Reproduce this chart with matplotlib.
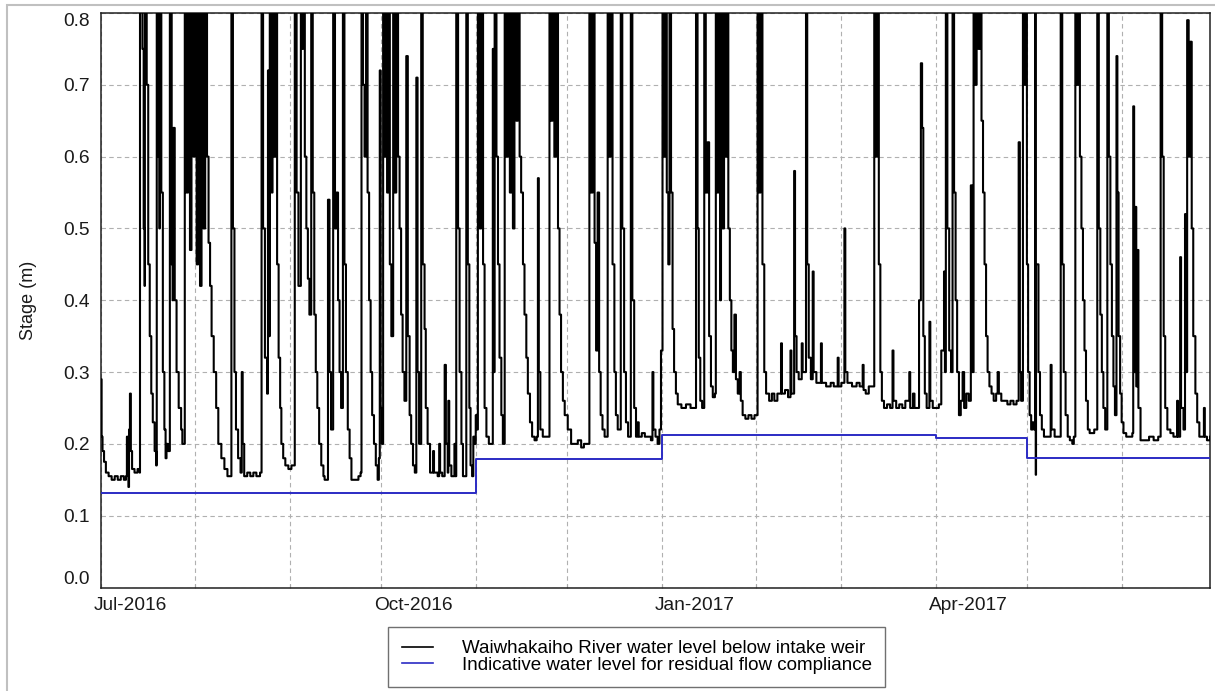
import numpy as np
import matplotlib
matplotlib.use('Agg')
import matplotlib.pyplot as plt
import matplotlib.dates as mdates
import matplotlib.transforms as mtransforms
from matplotlib.lines import Line2D
from matplotlib.patches import Rectangle
from datetime import datetime

plt.rcParams['font.family'] = ['Liberation Sans', 'DejaVu Sans']

# =============================================================================
# DATA (days since 1 Jul 2016, stage in m)
# =============================================================================

# Jul - Sep 2016
stage_q3 = [
    (0.0, 0.29), (0.2, 0.21), (0.5, 0.19), (1.0, 0.175), (1.6, 0.16), (2.5, 0.155), (3.5, 0.15),
    (4.5, 0.155), (5.5, 0.15), (6.5, 0.155), (7.5, 0.15), (8.2, 0.155), (8.5, 0.21), (8.8, 0.17),
    (9.0, 0.14), (9.2, 0.22), (9.5, 0.27), (9.8, 0.19), (10.2, 0.165), (11.0, 0.16), (12.0, 0.165),
    (12.7, 0.16), (12.8, 1.1), (13.6, 0.75), (14.0, 0.5), (14.3, 0.42), (14.4, 1.1), (15.0, 0.7),
    (15.5, 0.45), (16.0, 0.35), (16.5, 0.27), (17.0, 0.23), (17.6, 0.19), (18.1, 0.17), (18.3, 1.1),
    (18.8, 0.6), (19.2, 0.5), (19.3, 1.1), (19.8, 0.55), (20.3, 0.3), (20.8, 0.22), (21.2, 0.18),
    (21.5, 0.2), (22.0, 0.19), (22.6, 1.1), (23.2, 0.45), (23.5, 0.4), (23.7, 0.64), (24.2, 0.4),
    (24.8, 0.3), (25.5, 0.25), (26.3, 0.22), (26.7, 0.2), (27.5, 1.1), (28.0, 0.55), (28.6, 1.1),
    (29.2, 0.47), (29.7, 1.1), (30.3, 0.6), (30.8, 1.1), (31.4, 0.45), (31.9, 1.1), (32.5, 0.42),
    (33.0, 1.1), (33.6, 0.5), (34.2, 1.1), (34.8, 0.6), (35.3, 0.48), (35.8, 0.42), (36.3, 0.35),
    (37.0, 0.3), (37.8, 0.25), (38.5, 0.2), (39.5, 0.18), (40.5, 0.165), (41.5, 0.155), (42.8, 1.1),
    (43.3, 0.5), (43.8, 0.3), (44.3, 0.22), (45.0, 0.18), (45.8, 0.16), (46.2, 0.3), (46.5, 0.2),
    (47.0, 0.155), (48.0, 0.16), (49.0, 0.155), (50.0, 0.16), (51.0, 0.155), (52.2, 0.16),
    (52.7, 1.1), (53.2, 0.5), (53.8, 0.32), (54.5, 0.27), (54.8, 0.72), (55.2, 0.35), (55.4, 1.1),
    (56.0, 0.55), (56.3, 1.1), (56.8, 0.6), (57.3, 1.1), (57.8, 0.45), (58.3, 0.32), (58.8, 0.25),
    (59.2, 0.2), (59.8, 0.18), (60.5, 0.17), (61.5, 0.165), (62.5, 0.17), (63.2, 0.17), (63.6, 1.1),
    (64.2, 0.55), (64.8, 0.42), (65.6, 1.1), (66.0, 0.75), (66.3, 1.1), (66.9, 0.6), (67.4, 0.5),
    (67.9, 0.43), (68.4, 0.38), (69.0, 1.1), (69.5, 0.55), (70.0, 0.38), (70.5, 0.3), (71.0, 0.25),
    (71.6, 0.2), (72.3, 0.17), (73.0, 0.155), (73.4, 0.15), (74.5, 0.54), (75.0, 0.3), (75.5, 0.22),
    (76.2, 1.1), (76.8, 0.5), (77.3, 0.55), (77.8, 0.4), (78.3, 0.3), (78.8, 0.25), (79.4, 1.1),
    (79.9, 0.45), (80.4, 0.3), (81.0, 0.22), (81.6, 0.18), (82.2, 0.15), (83.2, 0.15), (84.5, 0.155),
    (85.2, 0.16), (85.5, 1.1), (86.0, 0.7), (86.5, 0.6), (87.0, 1.1), (87.5, 0.55), (88.0, 0.4),
    (88.5, 0.3), (89.0, 0.24), (89.6, 0.2), (90.2, 0.17), (90.8, 0.15), (91.2, 0.18), (91.5, 0.72),
    (91.8, 0.25),
]

# Oct - Dec 2016
stage_q4 = [
    (92.2, 0.2), (92.6, 1.1), (93.1, 0.6), (93.4, 1.1), (93.9, 0.55), (94.3, 1.1), (94.8, 0.45),
    (95.3, 0.35), (95.9, 1.1), (96.4, 0.55), (96.9, 1.1), (97.5, 0.6), (98.0, 0.5), (98.5, 0.38),
    (99.0, 0.3), (99.6, 0.26), (100.2, 0.74), (100.7, 0.35), (101.3, 0.24), (101.8, 0.2),
    (102.4, 0.17), (103.0, 0.16), (103.5, 0.71), (103.9, 0.3), (104.4, 0.2), (105.1, 1.1),
    (105.6, 0.45), (106.2, 0.36), (106.6, 0.25), (107.2, 0.2), (108.0, 0.16), (109.0, 0.19),
    (109.3, 0.16), (110.5, 0.155), (111.0, 0.2), (111.3, 0.16), (112.0, 0.155), (112.8, 0.31),
    (113.2, 0.2), (113.8, 0.16), (114.0, 0.26), (114.3, 0.17), (115.0, 0.155), (116.0, 0.2),
    (116.3, 0.155), (116.6, 1.1), (117.2, 0.5), (117.7, 0.3), (118.3, 0.2), (118.8, 0.155),
    (119.5, 0.155), (119.9, 1.1), (120.4, 0.45), (120.9, 0.25), (121.3, 0.17), (121.8, 0.155),
    (122.2, 0.21), (122.6, 0.2), (123.0, 0.24), (123.4, 0.22), (123.7, 1.1), (124.3, 0.5),
    (124.8, 1.1), (125.4, 0.45), (125.9, 0.25), (126.5, 0.21), (127.3, 0.2), (128.0, 0.2),
    (128.6, 0.75), (128.9, 0.3), (129.2, 1.1), (129.8, 0.6), (130.3, 0.45), (130.8, 0.32),
    (131.4, 0.24), (131.9, 0.2), (132.5, 1.1), (133.0, 0.6), (133.6, 1.1), (134.2, 0.55),
    (134.7, 1.1), (135.2, 0.5), (135.7, 1.1), (136.3, 0.65), (136.8, 1.1), (137.4, 0.6),
    (137.9, 0.55), (138.5, 0.45), (139.0, 0.38), (139.6, 0.32), (140.1, 0.27), (140.8, 0.23),
    (141.5, 0.21), (142.3, 0.205), (143.0, 0.21), (143.4, 0.57), (143.7, 0.3), (144.2, 0.22),
    (145.0, 0.21), (146.1, 0.21), (147.2, 1.1), (147.7, 0.65), (148.2, 1.1), (148.8, 0.6),
    (149.4, 1.1), (150.0, 0.5), (150.5, 0.38), (151.0, 0.3), (151.6, 0.26), (152.2, 0.24),
    (153.2, 0.22), (154.3, 0.2), (155.5, 0.2), (156.5, 0.205), (157.6, 0.195), (158.5, 0.2),
    (159.5, 0.2), (160.3, 1.1), (160.8, 0.55), (161.4, 1.1), (162.0, 0.48), (162.5, 0.33),
    (163.0, 0.55), (163.5, 0.3), (164.0, 0.24), (164.6, 0.22), (165.3, 0.21), (166.3, 1.1),
    (166.8, 0.6), (167.3, 1.1), (167.9, 0.45), (168.5, 0.3), (169.0, 0.24), (169.6, 0.22),
    (170.6, 1.1), (171.1, 0.5), (171.7, 0.3), (172.3, 0.23), (173.0, 0.21), (173.9, 1.1),
    (174.4, 0.4), (175.0, 0.25), (175.6, 0.21), (176.1, 0.23), (176.5, 0.21), (177.5, 0.215),
    (178.5, 0.21), (179.5, 0.21), (180.5, 0.205), (181.0, 0.3), (181.3, 0.22), (182.0, 0.21),
    (182.7, 0.2), (183.3, 0.22), (183.8, 0.33),
]

# Jan - Mar 2017
stage_q1 = [
    (184.3, 1.1), (184.8, 0.6), (185.2, 1.1), (185.7, 0.55), (186.2, 0.45), (186.6, 1.1),
    (187.1, 0.55), (187.6, 0.36), (188.1, 0.3), (188.7, 0.27), (189.3, 0.255), (190.5, 0.25),
    (192.0, 0.255), (193.5, 0.25), (194.7, 0.25), (195.3, 1.1), (195.8, 0.5), (196.2, 0.32),
    (196.7, 0.26), (197.3, 0.25), (198.0, 1.1), (198.5, 0.55), (199.1, 0.62), (199.6, 0.35),
    (200.2, 0.28), (200.8, 0.265), (201.5, 0.27), (201.8, 1.1), (202.3, 0.55), (202.7, 1.1),
    (203.2, 0.4), (203.5, 1.1), (204.0, 0.5), (204.5, 1.1), (205.0, 0.6), (205.4, 1.1),
    (205.9, 0.5), (206.4, 0.4), (206.9, 0.33), (207.4, 0.3), (207.9, 0.38), (208.4, 0.29),
    (209.0, 0.27), (209.6, 0.3), (210.0, 0.26), (210.6, 0.24), (211.5, 0.235), (212.5, 0.24),
    (213.5, 0.235), (214.5, 0.24), (215.5, 1.1), (216.0, 0.55), (216.5, 1.1), (217.1, 0.45),
    (217.7, 0.3), (218.3, 0.27), (219.3, 0.26), (220.2, 0.27), (221.0, 0.26), (222.0, 0.27),
    (223.2, 0.34), (223.5, 0.27), (224.5, 0.275), (225.5, 0.265), (226.3, 0.33), (226.6, 0.27),
    (227.5, 0.58), (227.8, 0.35), (228.3, 0.3), (229.0, 0.29), (230.0, 0.34), (230.3, 0.3),
    (231.4, 1.1), (231.8, 0.45), (232.3, 0.32), (233.0, 0.29), (233.6, 0.44), (233.9, 0.3),
    (234.8, 0.285), (236.3, 0.34), (236.6, 0.285), (238.0, 0.28), (239.5, 0.285), (240.5, 0.28),
    (241.8, 0.32), (242.1, 0.28), (243.0, 0.285), (244.0, 0.5), (244.3, 0.3), (245.0, 0.285),
    (246.5, 0.28), (248.0, 0.285), (249.0, 0.28), (250.0, 0.31), (250.3, 0.275), (251.0, 0.27),
    (252.0, 0.28), (252.7, 0.28), (253.8, 1.1), (254.3, 0.6), (254.8, 1.1), (255.3, 0.45),
    (255.8, 0.3), (256.3, 0.26), (257.0, 0.25), (258.0, 0.255), (259.0, 0.25), (259.8, 0.33),
    (260.1, 0.26), (261.0, 0.25), (262.0, 0.255), (263.0, 0.25), (264.0, 0.26), (265.3, 0.3),
    (265.6, 0.25), (266.5, 0.27), (267.0, 0.25), (268.5, 0.4), (269.1, 0.73), (269.5, 0.64),
    (269.9, 0.35), (270.4, 0.27), (271.0, 0.25), (271.9, 0.37), (272.2, 0.26), (273.0, 0.25),
]

# Apr - Jun 2017
stage_q2 = [
    (274.0, 0.25), (275.0, 0.255), (275.8, 0.33), (276.7, 0.44), (277.0, 0.3), (277.3, 1.1),
    (277.8, 0.5), (278.4, 0.33), (279.0, 0.3), (279.5, 1.1), (280.0, 0.55), (280.5, 0.4),
    (281.0, 0.3), (281.6, 0.24), (282.2, 0.26), (282.8, 0.3), (283.3, 0.25), (284.0, 0.27),
    (284.8, 0.26), (285.5, 0.56), (285.9, 0.3), (286.4, 1.1), (286.9, 0.7), (287.4, 1.1),
    (288.0, 0.75), (288.5, 1.1), (289.0, 0.65), (289.5, 0.55), (290.0, 0.45), (290.5, 0.35),
    (291.0, 0.3), (291.6, 0.28), (292.3, 0.27), (293.0, 0.26), (293.8, 0.27), (294.3, 0.3),
    (294.7, 0.27), (295.5, 0.26), (296.5, 0.26), (297.5, 0.255), (298.5, 0.26), (299.5, 0.255),
    (300.5, 0.26), (301.2, 0.62), (301.6, 0.3), (302.0, 0.26), (302.6, 1.1), (303.0, 0.7),
    (303.4, 1.1), (303.9, 0.45), (304.3, 0.3), (304.8, 0.24), (305.3, 0.22), (305.8, 0.23),
    (306.3, 0.22), (306.6, 1.1), (306.8, 0.157), (306.9, 0.45), (307.7, 0.3), (308.2, 0.24),
    (308.8, 0.22), (309.5, 0.21), (310.5, 0.21), (311.7, 0.31), (312.0, 0.22), (313.0, 0.21),
    (314.0, 0.21), (315.0, 1.1), (315.5, 0.45), (316.0, 0.3), (316.6, 0.24), (317.3, 0.21),
    (318.0, 0.205), (318.8, 0.2), (319.3, 0.21), (319.8, 1.1), (320.3, 0.7), (320.8, 1.1),
    (321.3, 0.6), (321.8, 0.5), (322.3, 0.4), (322.8, 0.33), (323.3, 0.26), (323.9, 0.22),
    (324.5, 0.215), (325.2, 0.215), (326.0, 0.22), (327.0, 1.1), (327.5, 0.5), (328.0, 0.38),
    (328.5, 0.3), (329.0, 0.25), (329.6, 0.22), (330.3, 1.1), (330.8, 0.6), (331.3, 0.45),
    (331.8, 0.35), (332.3, 0.28), (332.8, 0.24), (333.3, 0.74), (333.6, 0.55), (334.0, 0.35),
    (334.5, 0.27), (335.0, 0.23), (335.6, 0.215), (336.5, 0.21), (337.5, 0.21), (338.5, 0.215),
    (338.8, 0.67), (339.1, 0.3), (339.5, 0.53), (339.8, 0.28), (340.2, 0.47), (340.5, 0.25),
    (341.2, 0.205), (342.5, 0.205), (344.0, 0.21), (345.5, 0.205), (347.0, 0.21), (347.8, 1.1),
    (348.3, 0.6), (348.8, 0.35), (349.3, 0.25), (350.0, 0.22), (351.0, 0.215), (352.0, 0.21),
    (353.2, 0.26), (353.5, 0.21), (354.2, 0.46), (354.5, 0.25), (355.3, 0.22), (355.8, 0.52),
    (356.1, 0.3), (356.5, 0.79), (357.0, 0.6), (357.5, 0.76), (358.0, 0.5), (358.5, 0.35),
    (359.2, 0.27), (359.8, 0.23), (360.5, 0.21), (361.3, 0.21), (362.0, 0.25), (362.3, 0.21),
    (363.0, 0.205), (364.0, 0.21),
]

# residual flow compliance level (step changes)
residual_dates = [datetime(2016, 7, 1), datetime(2016, 11, 1), datetime(2017, 1, 1),
                  datetime(2017, 4, 1), datetime(2017, 5, 1), datetime(2017, 6, 30)]
residual_level = [0.131, 0.179, 0.213, 0.208, 0.181, 0.181]

yticks = [0.0, 0.1, 0.2, 0.3, 0.4, 0.5, 0.6, 0.7, 0.8]
labels = ['Waiwhakaiho River water level below intake weir',
          'Indicative water level for residual flow compliance']

# =============================================================================
# PLOT
# =============================================================================

start = mdates.date2num(datetime(2016, 7, 1))
stage = np.array(stage_q3 + stage_q4 + stage_q1 + stage_q2)
stage_x = start + stage[:, 0]
res_x = mdates.date2num(residual_dates)

W, H = 1215, 691
fig = plt.figure(figsize=(W / 100, H / 100), dpi=100)
ax = fig.add_axes([101 / W, 1 - 587.5 / H, 1109 / W, 574.5 / H])

ax.plot(stage_x, stage[:, 1], color='black', lw=1.5, drawstyle='steps-post', zorder=3)
ax.plot(res_x, residual_level, color='#2b2bc4', lw=1.4, drawstyle='steps-post', zorder=4)

ax.set_xlim(start, start + 364)
ax.set_ylim(0, 0.8)

ax.set_axisbelow(True)
ax.grid(True, color='#b0b0b0', linestyle=(0, (4, 3)), lw=0.8)

ax.xaxis.set_major_locator(mdates.MonthLocator())
ax.xaxis.set_major_formatter(plt.FuncFormatter(
    lambda v, p: mdates.num2date(v).strftime('%b-%Y') if mdates.num2date(v).month in (1, 4, 7, 10) else ''))
ax.set_yticks(yticks)
ax.yaxis.set_major_formatter(plt.FuncFormatter(lambda v, p: '%.1f' % v))

ax.tick_params(axis='x', direction='in', length=3, color='#a8a8a8', pad=7,
               labelsize=13.8, labelcolor='#1a1a1a')
ax.tick_params(axis='y', length=0, pad=8, labelsize=13.8, labelcolor='#1a1a1a')

offset = mtransforms.ScaledTranslation(-7 / 100, 0, fig.dpi_scale_trans)
for lab in ax.get_xticklabels():
    lab.set_ha('left')
    lab.set_transform(lab.get_transform() + offset)
ylabs = ax.get_yticklabels()
ylabs[0].set_va('bottom')
ylabs[-1].set_va('top')

for sp in ax.spines.values():
    sp.set_color('#202020')
    sp.set_linewidth(1.1)

ax.set_ylabel('Stage (m)', fontsize=13, color='#1a1a1a')
ax.yaxis.set_label_coords(-0.058, 0.5)

handles = [Line2D([], [], color='black', lw=1.2), Line2D([], [], color='#2b2bc4', lw=1.2)]
leg = fig.legend(handles, labels, loc='center', bbox_to_anchor=(636.5 / W, 1 - 657 / H),
                 fontsize=13.5, frameon=True, fancybox=False, framealpha=1,
                 edgecolor='#707070', handlelength=1.7, handletextpad=1.5,
                 labelspacing=-0.05, borderpad=0.72, borderaxespad=0)
leg.get_frame().set_linewidth(1.0)

# outer frame of the picture
fig.patches.append(Rectangle((7 / W, -0.1), 1.2, 1 - 5 / H + 0.1, transform=fig.transFigure,
                             fill=False, edgecolor='#c0c0c0', lw=1.5))

fig.savefig('out.png', dpi=100)
